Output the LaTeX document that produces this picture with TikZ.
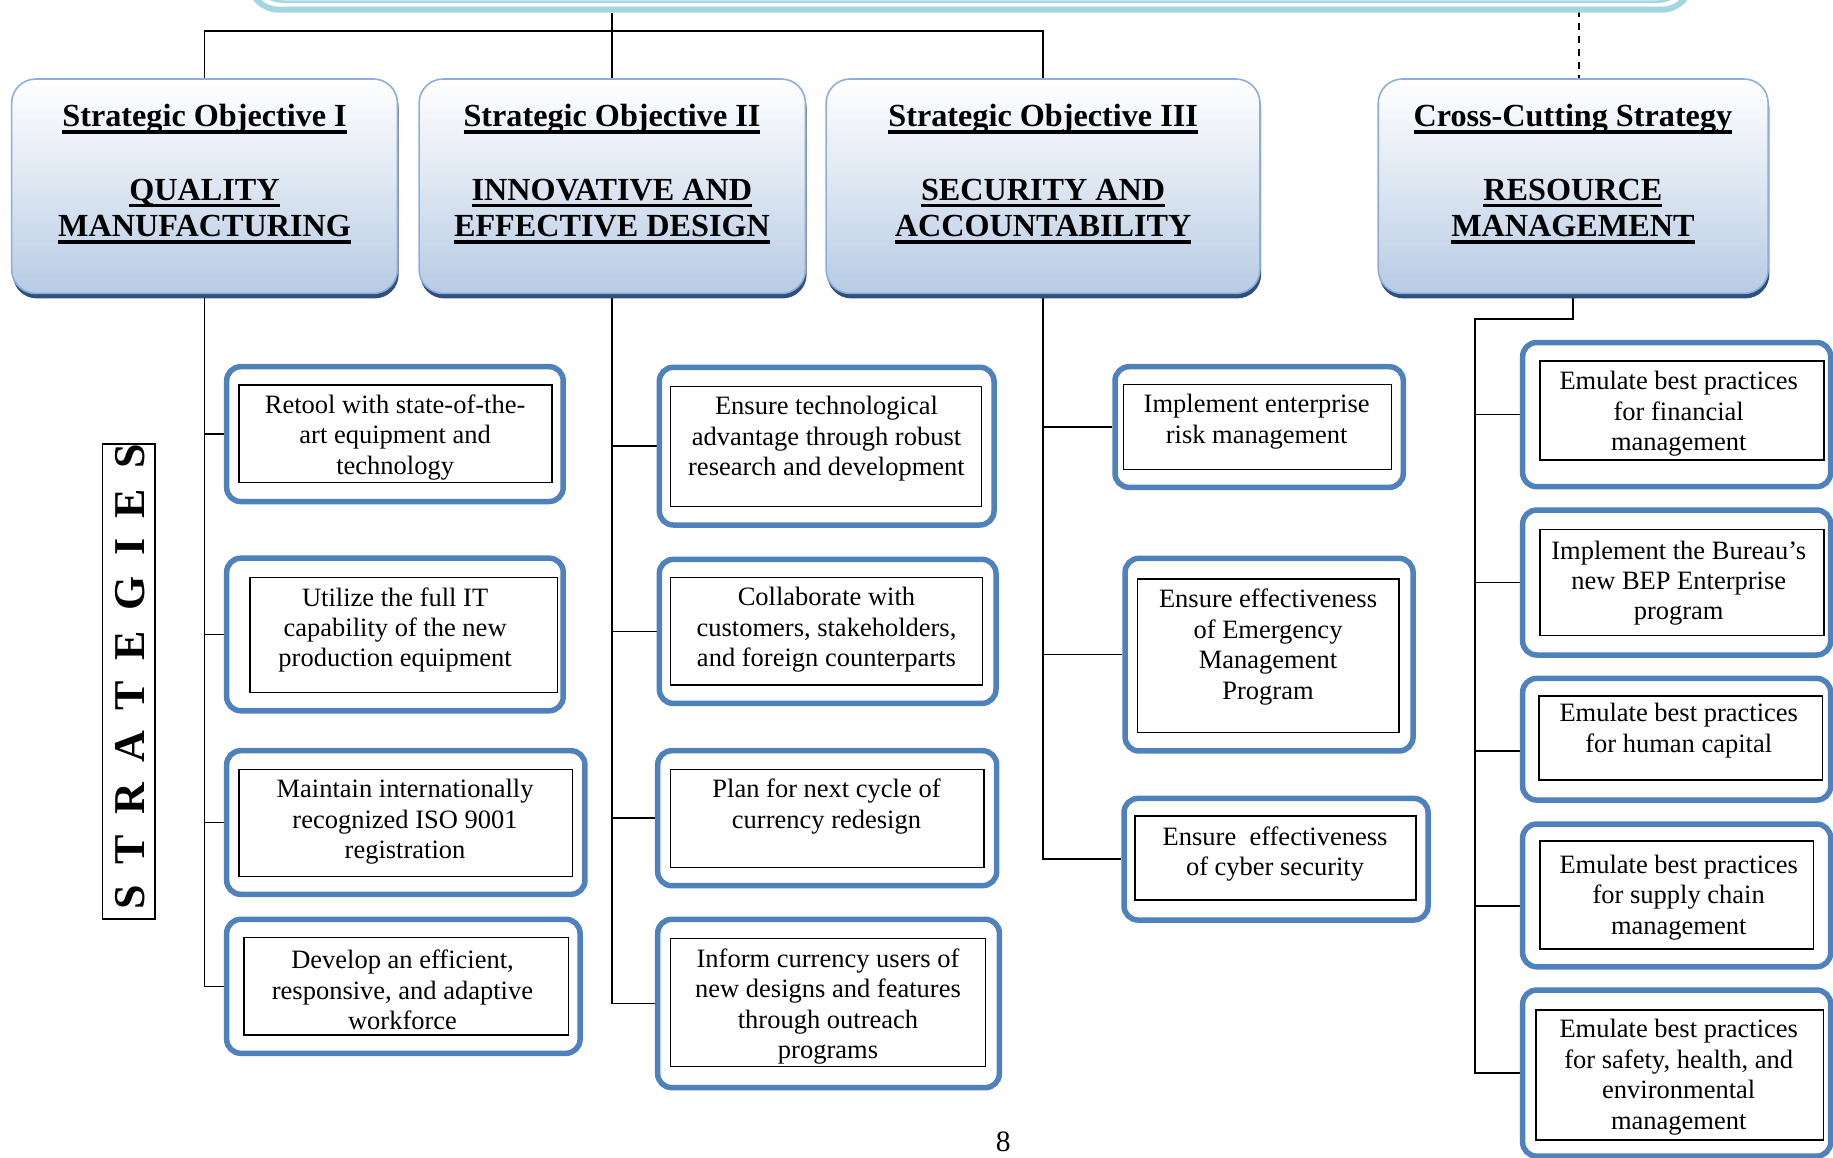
\documentclass[tikz,border=0pt]{standalone}
\usepackage{fontspec}
\setmainfont{Liberation Serif}
\usetikzlibrary{fit,shadows}
\definecolor{sblue}{HTML}{4F81BD}
\definecolor{hborder}{HTML}{8DAEDB}
\definecolor{hbot}{HTML}{B7CBE4}
\definecolor{hmid}{HTML}{DDE6F2}
\definecolor{hshadow}{HTML}{2F4F7C}
\definecolor{banner}{HTML}{A5D5E1}
\newcommand\bodyfont{\fontsize{26.5pt}{30.4pt}\selectfont}
\newcommand\hdrfont{\fontsize{32.2pt}{37pt}\selectfont\bfseries}
\newcommand\stfont{\fontsize{44pt}{50pt}\selectfont\bfseries}
\newcommand\hul[1]{\setbox0=\hbox{#1}\rlap{\rule[-6.7pt]{\wd0}{3.2pt}}\box0}
\pgfdeclarelayer{bg}
\pgfsetlayers{bg,main}
\begin{document}
\begin{tikzpicture}[x=1.169pt,y=-1.169pt,
  conn/.style={draw=black,line width=1.6pt},
  sbox/.style={draw=sblue,line width=5.5pt,rounded corners=14pt,fill=white,inner sep=0pt},
  ibox/.style={draw=black,line width=1.4pt,inner sep=0pt},
  stxt/.style={align=center,font=\bodyfont,inner sep=0pt,yshift=-2.3pt},
  hbox/.style={draw=hborder,line width=1.6pt,rounded corners=24pt,top color=white,bottom color=hbot,middle color=hmid,inner sep=0pt,
    general shadow={fill=hshadow,shadow xshift=1.2pt,shadow yshift=-5pt}},
  htxt/.style={font=\hdrfont,inner sep=0pt,anchor=base}]
\useasboundingbox (0,0) rectangle (1568,990);

% banner
\node[draw=banner,line width=6pt,rounded corners=30pt,inner sep=0pt,fit={(213,-60) (1447,8.3)}] (ban) {};
\draw[banner,line width=2.5pt,rounded corners=24pt] (220,-60) rectangle (1440,1.3);

% header boxes
\node[hbox,fit={(10,67.6) (340,251)}] (h1) {};
\node[hbox,fit={(358.5,67.6) (689,251)}] (h2) {};
\node[hbox,fit={(706.7,67.6) (1077.8,251)}] (h3) {};
\node[hbox,fit={(1179,67.6) (1512.5,251)}] (h4) {};

\node[htxt] (h1a) at (175,108.6) {\hul{Strategic Objective I}};
\node[htxt] (h1b) at (175,171.1) {\hul{QUALITY}};
\node[htxt] (h1c) at (175,202.7) {\hul{MANUFACTURING}};
\node[htxt] (h2a) at (523.5,108.6) {\hul{Strategic Objective II}};
\node[htxt] (h2b) at (523.5,171.1) {\hul{INNOVATIVE AND}};
\node[htxt] (h2c) at (523.5,202.7) {\hul{EFFECTIVE DESIGN}};
\node[htxt] (h3a) at (892.3,108.6) {\hul{Strategic Objective III}};
\node[htxt] (h3b) at (892.3,171.1) {\hul{SECURITY AND}};
\node[htxt] (h3c) at (892.3,202.7) {\hul{ACCOUNTABILITY}};
\node[htxt] (h4a) at (1345.5,108.6) {\hul{Cross-Cutting Strategy}};
\node[htxt] (h4b) at (1345.5,171.1) {\hul{RESOURCE}};
\node[htxt] (h4c) at (1345.5,202.7) {\hul{MANAGEMENT}};

% STRATEGIES
\node[draw,line width=1.4pt,inner sep=0pt,fit={(87.8,379.8) (132.6,786.1)}] (stbox) {};
\node[rotate=90,font=\stfont,inner sep=0pt] (sttxt) at (111.2,578.9)
  {S\kern20.5pt T\kern20.5pt R\kern20.5pt A\kern20.5pt T\kern20.5pt E\kern20.5pt G\kern20.5pt I\kern20.5pt E\kern20.5pt S};

% column 1
\node[sbox,fit={(193.9,313.7) (481.8,429)}] (o1a) {};
\node[ibox,fit={(204.5,329.3) (472.3,412.9)}] (i1a) {};
\node[stxt] (t1a) at (338,372) {Retool with state-of-the-\\art equipment and\\technology};
\node[sbox,fit={(193.9,477.5) (481.8,608)}] (o1b) {};
\node[ibox,fit={(213.9,493.9) (476.8,592.5)}] (i1b) {};
\node[stxt] (t1b) at (338,537) {Utilize the full IT\\capability of the new\\production equipment};
\node[sbox,fit={(193.9,642.2) (500.4,765)}] (o1c) {};
\node[ibox,fit={(204.5,658.1) (489.6,750)}] (i1c) {};
\node[stxt] (t1c) at (346.5,701.2) {Maintain internationally\\recognized ISO 9001\\registration};
\node[sbox,fit={(193.9,786.4) (496.2,901)}] (o1d) {};
\node[ibox,fit={(208.7,801.8) (486.2,885.4)}] (i1d) {};
\node[stxt] (t1d) at (344.3,844.8) {Develop an efficient,\\responsive, and adaptive\\workforce};

% column 2
\node[sbox,fit={(564,314.2) (850.3,449.1)}] (o2a) {};
\node[ibox,fit={(573.7,330.8) (839.8,433.4)}] (i2a) {};
\node[stxt] (t2a) at (707,373.3) {Ensure technological\\advantage through robust\\research and development};
\node[sbox,fit={(564,478.5) (852,601.7)}] (o2b) {};
\node[ibox,fit={(573.7,493.9) (840.6,586)}] (i2b) {};
\node[stxt] (t2b) at (707,536.8) {Collaborate with\\customers, stakeholders,\\and foreign counterparts};
\node[sbox,fit={(562.6,642.2) (852.6,757.6)}] (o2c) {};
\node[ibox,fit={(573.7,658.1) (841.8,742.2)}] (i2c) {};
\node[stxt] (t2c) at (707,687.9) {Plan for next cycle of\\currency redesign};
\node[sbox,fit={(562.6,786.4) (854.9,930.4)}] (o2d) {};
\node[ibox,fit={(573.7,802.7) (843.2,912.5)}] (i2d) {};
\node[stxt] (t2d) at (708.3,859) {Inform currency users of\\new designs and features\\through outreach\\programs};

% column 3
\node[sbox,fit={(953.8,313.7) (1200.4,416.9)}] (o3a) {};
\node[ibox,fit={(961,328.8) (1190.5,401.5)}] (i3a) {};
\node[stxt] (t3a) at (1075,358.9) {Implement enterprise\\risk management};
\node[sbox,fit={(962.4,477.6) (1208.8,642.4)}] (o3b) {};
\node[ibox,fit={(973.2,495.3) (1196.8,626.5)}] (i3b) {};
\node[stxt] (t3b) at (1084.7,551.5) {Ensure effectiveness\\of Emergency\\Management\\Program};
\node[sbox,fit={(961.5,683) (1221.6,787)}] (o3c) {};
\node[ibox,fit={(971,698) (1211.3,770)}] (i3c) {};
\node[stxt] (t3c) at (1090.7,728.5) {Ensure\ \ effectiveness\\of cyber security};

% column 4
\node[sbox,fit={(1302.5,293) (1566,416.3)}] (o4a) {};
\node[ibox,fit={(1317.4,308.8) (1560.3,393.5)}] (i4a) {};
\node[stxt] (t4a) at (1436,352) {Emulate best practices\\for financial\\management};
\node[sbox,fit={(1302.5,436.3) (1566,560.3)}] (o4b) {};
\node[ibox,fit={(1317.4,452.8) (1560.3,543.8)}] (i4b) {};
\node[stxt] (t4b) at (1436,496.8) {Implement the Bureau’s\\new BEP Enterprise\\program};
\node[sbox,fit={(1302.5,580.3) (1566,684.4)}] (o4c) {};
\node[ibox,fit={(1316.5,595.4) (1558.9,667.2)}] (i4c) {};
\node[stxt] (t4c) at (1436,623) {Emulate best practices\\for human capital};
\node[sbox,fit={(1302.5,704.9) (1566,827)}] (o4d) {};
\node[ibox,fit={(1317.4,719.4) (1551.2,811.8)}] (i4d) {};
\node[stxt] (t4d) at (1436,765.6) {Emulate best practices\\for supply chain\\management};
\node[sbox,fit={(1302.5,846.9) (1566,989)}] (o4e) {};
\node[ibox,fit={(1314,864) (1559.7,975.2)}] (i4e) {};
\node[stxt] (t4e) at (1436,919.5) {Emulate best practices\\for safety, health, and\\environmental\\management};

% page number
\node[font=\fontsize{29.5pt}{32pt}\selectfont,anchor=base,inner sep=0pt] (pg) at (858.3,985.2) {8};

% connectors
\coordinate (hbar) at (0,26.5);
\coordinate (dtop) at (1350.7,8.3);
\coordinate (k4) at (1261.8,272.9);
\coordinate (b4c) at (1261.8,642.2);
\coordinate (b4d) at (1261.8,775);
\begin{pgfonlayer}{bg}
\draw[conn] (h1.north) -- (h1.north |- hbar) -- (h3.north |- hbar) -- (h3.north);
\draw[conn] (ban.south -| h2.north) -- (h2.north);
\draw[line width=1.2pt,dash pattern=on 7pt off 6pt] (dtop) -- (dtop |- h4.north);

\draw[conn] (h1.south) -- (h1.south |- o1d.west) -- (o1d.west);
\draw[conn] (h1.south |- o1a.west) -- (o1a.west);
\draw[conn] (h1.south |- o1b.west) -- (o1b.west);
\draw[conn] (h1.south |- o1c.west) -- (o1c.west);

\draw[conn] (h2.south) -- (h2.south |- o2d.west) -- (o2d.west);
\draw[conn] (h2.south |- o2a.west) -- (o2a.west);
\draw[conn] (h2.south |- o2b.west) -- (o2b.west);
\draw[conn] (h2.south |- o2c.west) -- (o2c.west);

\draw[conn] (h3.south) -- (h3.south |- o3c.west) -- (o3c.west);
\draw[conn] (h3.south |- o3a.west) -- (o3a.west);
\draw[conn] (h3.south |- o3b.west) -- (o3b.west);

\draw[conn] (h4.south) |- (k4) -- (k4 |- o4e.west) -- (o4e.west);
\draw[conn] (k4 |- o4a.west) -- (o4a.west);
\draw[conn] (k4 |- o4b.west) -- (o4b.west);
\draw[conn] (b4c) -- (b4c -| o4c.west);
\draw[conn] (b4d) -- (b4d -| o4d.west);
\end{pgfonlayer}
\end{tikzpicture}
\end{document}
